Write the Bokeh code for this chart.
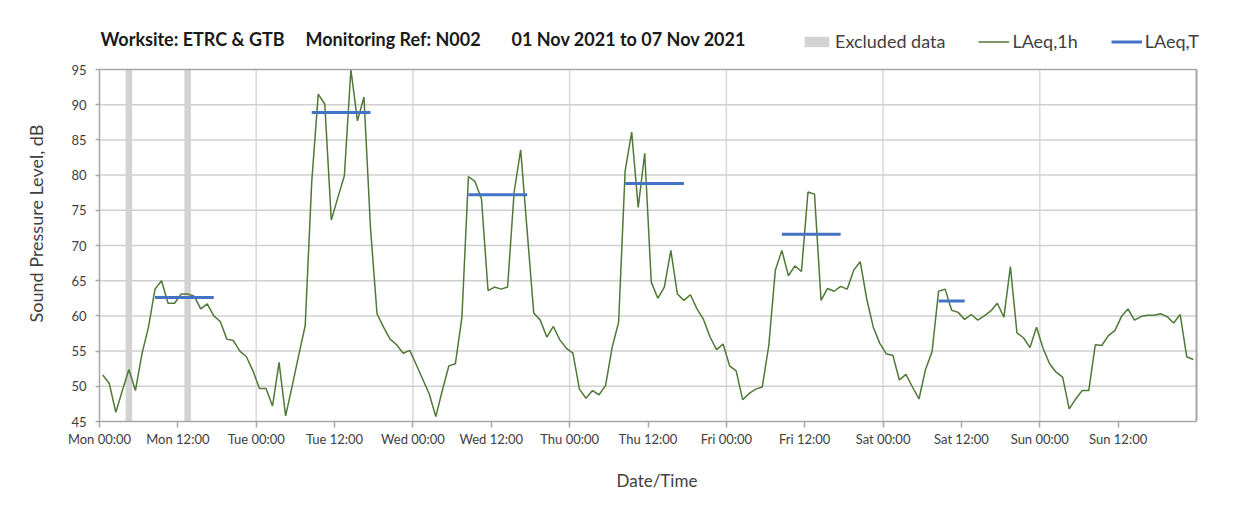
import numpy as np
from bokeh.plotting import figure
from bokeh.models import Range1d, FixedTicker, Legend, LegendItem, Label
from bokeh.embed import file_html
from bokeh.resources import INLINE

# ---------------- data ----------------
tick_hours = [0, 12, 24, 36, 48, 60, 72, 84, 96, 108, 120, 132, 144, 156]
tick_labels = ["Mon 00:00", "Mon 12:00", "Tue 00:00", "Tue 12:00", "Wed 00:00", "Wed 12:00",
               "Thu 00:00", "Thu 12:00", "Fri 00:00", "Fri 12:00", "Sat 00:00", "Sat 12:00",
               "Sun 00:00", "Sun 12:00"]
day_hours = [24, 48, 72, 96, 120, 144]
y_ticks = [45, 50, 55, 60, 65, 70, 75, 80, 85, 90, 95]

# hourly LAeq,1h readings, Mon 00:00 .. Sun 23:00
laeq_1h_mon = [51.6, 50.4, 46.3, 49.4, 52.4, 49.4, 54.6, 58.4, 63.8, 65.0, 61.8, 61.8,
               63.1, 63.1, 62.8, 61.0, 61.7, 60.0, 59.2, 56.7, 56.5, 55.0, 54.2, 52.2]
laeq_1h_tue = [49.7, 49.7, 47.2, 53.4, 45.8, 50.0, 54.4, 58.6, 79.0, 91.5, 90.1, 73.6,
               76.8, 79.9, 95.0, 87.7, 91.1, 72.5, 60.3, 58.4, 56.7, 55.9, 54.7, 55.1]
laeq_1h_wed = [53.1, 51.0, 48.9, 45.7, 49.4, 52.9, 53.2, 59.8, 79.8, 79.1, 76.6, 63.6,
               64.1, 63.8, 64.1, 77.6, 83.6, 72.0, 60.4, 59.4, 57.0, 58.5, 56.6, 55.4]
laeq_1h_thu = [54.7, 49.6, 48.3, 49.4, 48.8, 50.1, 55.5, 59.1, 80.6, 86.1, 75.4, 83.1,
               64.8, 62.5, 64.1, 69.3, 63.1, 62.2, 63.0, 61.0, 59.5, 57.0, 55.2, 56.0]
laeq_1h_fri = [52.9, 52.2, 48.1, 49.0, 49.6, 49.9, 55.8, 66.5, 69.3, 65.7, 67.1, 66.3,
               77.6, 77.3, 62.2, 63.9, 63.5, 64.2, 63.8, 66.5, 67.7, 62.4, 58.4, 56.1]
laeq_1h_sat = [54.6, 54.4, 50.9, 51.7, 49.9, 48.2, 52.4, 54.9, 63.5, 63.8, 60.8, 60.5,
               59.5, 60.2, 59.4, 60.0, 60.7, 61.8, 59.8, 67.0, 57.6, 56.9, 55.5, 58.4]
laeq_1h_sun = [55.4, 53.2, 52.0, 51.3, 46.8, 48.2, 49.4, 49.4, 55.9, 55.8, 57.2, 57.9,
               59.9, 61.0, 59.4, 59.9, 60.1, 60.1, 60.3, 59.9, 59.0, 60.2, 54.2, 53.8]

# LAeq,T daytime periods (first and last hour of each period)
period_start = [8, 32, 56, 80, 104, 128]
period_end = [17, 41, 65, 89, 113, 132]
laeq_t = [62.6, 88.9, 77.2, 78.8, 71.6, 62.1]

# hours with excluded data
excluded_hours = [4, 13]

title_parts = ["Worksite: ETRC & GTB", "Monitoring Ref: N002", "01 Nov 2021 to 07 Nov 2021"]

# ---------------- build ----------------
FONT = "Lato"
GREEN = "#4f7936"
BLUE = "#4472c4"
GREY_BAR = "#d3d3d3"
GRID_V = "#d9d9d9"
GRID_H = "#d0d0d0"
AXIS = "#a6a6a6"
TXT = "#404040"

X_END = 168  # one week of hours
W, H = 1242, 501
PLOT_LEFT, PLOT_RIGHT, PLOT_TOP, PLOT_BOTTOM = 99, 1196, 69, 421   # value area in pixels
FRAME_TOP, FRAME_RIGHT = 25, 1214                                  # frame incl. title/legend room
B_LEFT, B_RIGHT, B_TOP, B_BOTTOM = PLOT_LEFT, W - FRAME_RIGHT, FRAME_TOP, H - PLOT_BOTTOM
frame_h = H - B_TOP - B_BOTTOM
y_lo, y_hi = y_ticks[0], y_ticks[-1]
px_per_db = (PLOT_BOTTOM - PLOT_TOP) / (y_hi - y_lo)
px_per_h = (PLOT_RIGHT - PLOT_LEFT) / X_END
y_top = y_hi + (PLOT_TOP - FRAME_TOP) / px_per_db
x_right = X_END + (FRAME_RIGHT - PLOT_RIGHT) / px_per_h

laeq_1h = laeq_1h_mon + laeq_1h_tue + laeq_1h_wed + laeq_1h_thu + laeq_1h_fri + laeq_1h_sat + laeq_1h_sun
hours = np.arange(len(laeq_1h))
x_mid = hours + 0.5  # plotted at the middle of each hourly interval

p = figure(width=W, height=H, output_backend="svg", toolbar_location=None,
           x_range=Range1d(0, x_right), y_range=Range1d(y_lo, y_top),
           min_border_left=B_LEFT, min_border_right=B_RIGHT,
           min_border_top=B_TOP, min_border_bottom=B_BOTTOM)
p.background_fill_color = "white"
p.border_fill_color = "white"
p.outline_line_color = None

# grid (limited to the value area)
p.xgrid.visible = False
p.ygrid.visible = False
p.segment(x0=day_hours, x1=day_hours, y0=y_lo, y1=y_hi, line_color=GRID_V, line_width=1.5)
p.segment(x0=0, x1=X_END, y0=y_ticks[1:-1], y1=y_ticks[1:-1], line_color=GRID_H, line_width=1.5)

# excluded data bars
ex = p.vbar(x=[h + 0.5 for h in excluded_hours], width=1, bottom=y_lo, top=y_hi,
            fill_color=GREY_BAR, line_color=None)

# LAeq,1h
l1 = p.line(x_mid, laeq_1h, line_color=GREEN, line_width=1.5)

# LAeq,T
lt = p.segment(x0=[s + 0.5 for s in period_start], x1=[e + 0.5 for e in period_end],
               y0=laeq_t, y1=laeq_t, line_color=BLUE, line_width=3)

# plot-area border (top + right)
p.segment(x0=[0], x1=[X_END], y0=[y_hi], y1=[y_hi], line_color=AXIS, line_width=1.5)
p.segment(x0=[X_END], x1=[X_END], y0=[y_lo], y1=[y_hi], line_color=AXIS, line_width=2)

# axes
p.xaxis.ticker = FixedTicker(ticks=tick_hours)
p.xaxis.major_label_overrides = {h: lab for h, lab in zip(tick_hours, tick_labels)}
p.yaxis.ticker = FixedTicker(ticks=y_ticks)
for ax in (p.xaxis[0], p.yaxis[0]):
    ax.axis_line_color = AXIS
    ax.axis_line_width = 1.5
    ax.major_tick_line_color = AXIS
    ax.major_tick_line_width = 1.5
    ax.minor_tick_line_color = None
    ax.major_tick_in = 0
    ax.major_label_text_font = FONT
    ax.major_label_text_font_size = "13px"
    ax.major_label_text_color = TXT
    ax.axis_label_text_font = FONT
    ax.axis_label_text_font_size = "17px"
    ax.axis_label_text_font_style = "normal"
    ax.axis_label_text_color = TXT
p.xaxis[0].bounds = (0, X_END)
p.yaxis[0].bounds = (y_lo, y_hi)
p.yaxis[0].axis_label_text_font_size = "18px"
p.xaxis.major_tick_out = 6
p.yaxis[0].major_tick_out = 4
p.xaxis.major_label_standoff = 3
p.yaxis[0].major_label_standoff = 9
p.xaxis.axis_label = "Date/Time"
p.yaxis[0].axis_label = "Sound Pressure Level, dB"
p.xaxis.axis_label_standoff = 20
p.yaxis[0].axis_label_standoff = 21

# title (screen units, relative to the plot frame's bottom-left)
title_x = [1, 206, 412]
for t, tx in zip(title_parts, title_x):
    p.add_layout(Label(x=tx, y=frame_h - (38 - B_TOP), x_units="screen", y_units="screen", text=t,
                       text_font=FONT, text_font_size="18px", text_font_style="bold",
                       text_color="#1a1a1a", text_baseline="middle", text_align="left"))

legend = Legend(items=[LegendItem(label="Excluded data", renderers=[ex]),
                       LegendItem(label="LAeq,1h", renderers=[l1]),
                       LegendItem(label="LAeq,T", renderers=[lt])],
                orientation="horizontal", location=(702, frame_h - (52 - B_TOP)),
                glyph_width=31, glyph_height=13, label_standoff=3, spacing=33,
                padding=0, margin=0, border_line_color=None, background_fill_alpha=0,
                label_text_font=FONT, label_text_font_size="18px", label_text_color=TXT,
                label_height=20)
p.add_layout(legend, "center")

open("out.html", "w").write(file_html(p, INLINE))
